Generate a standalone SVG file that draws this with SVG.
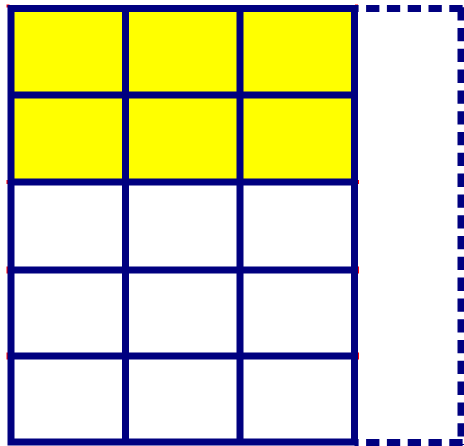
<svg xmlns="http://www.w3.org/2000/svg" width="464" height="446" viewBox="0 0 464 446">
  <style>
    .cell-y { fill: #ffff00; }
    .cell-w { fill: #ffffff; }
    .grid { stroke: #000080; stroke-width: 7; fill: none; }
    .dash { stroke: #000080; stroke-width: 7; fill: none; stroke-dasharray: 13.3 7.5; }
    .mark { fill: #ff0000; }
  </style>
  <rect width="464" height="446" fill="#ffffff"/>
  <g id="cells">
    <rect class="cell-y" x="11" y="8.5" width="343.5" height="173.5"/>
  </g>
  <g id="marks">
    <rect class="mark" x="6.5" y="4.5" width="3" height="3"/>
    <rect class="mark" x="355" y="4.5" width="3" height="3"/>
    <rect class="mark" x="6.5" y="180" width="3" height="4"/>
    <rect class="mark" x="6.5" y="266.5" width="3" height="7"/>
    <rect class="mark" x="6.5" y="352.5" width="3" height="7"/>
    <rect class="mark" x="356" y="180" width="3" height="4"/>
    <rect class="mark" x="356" y="266.5" width="3" height="7"/>
    <rect class="mark" x="356" y="352.5" width="3" height="7"/>
  </g>
  <g id="dashed-extension">
    <line class="dash" x1="462.6" y1="8.5" x2="354.5" y2="8.5"/>
    <line class="dash" x1="461" y1="7.2" x2="461" y2="445"/>
    <line class="dash" x1="462.6" y1="442.5" x2="354.5" y2="442.5"/>
  </g>
  <g id="grid">
    <line class="grid" x1="125.5" y1="8.5" x2="125.5" y2="442"/>
    <line class="grid" x1="240" y1="8.5" x2="240" y2="442"/>
    <line class="grid" x1="11" y1="95" x2="354.5" y2="95"/>
    <line class="grid" x1="11" y1="182" x2="354.5" y2="182"/>
    <line class="grid" x1="11" y1="270" x2="354.5" y2="270"/>
    <line class="grid" x1="11" y1="356" x2="354.5" y2="356"/>
    <rect class="grid" x="11" y="8.5" width="343.5" height="433.5"/>
  </g>
</svg>
